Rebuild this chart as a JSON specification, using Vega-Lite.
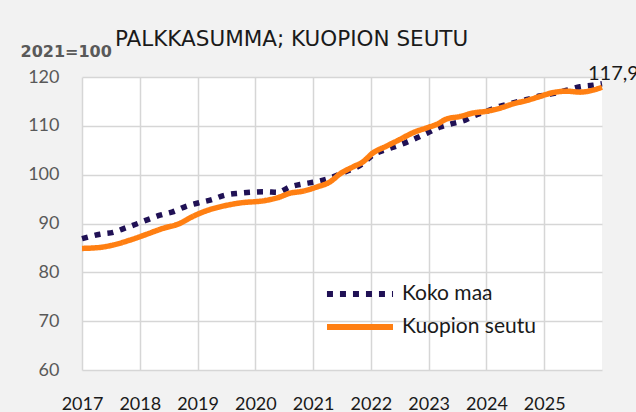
{
  "$schema": "https://vega.github.io/schema/vega-lite/v6.json",
  "width": 520,
  "height": 293,
  "autosize": "none",
  "padding": {"left": 82, "top": 77, "right": 34, "bottom": 42},
  "background": "#f2f2f2",
  "config": {
    "view": {"fill": "white", "stroke": null},
    "font": "Lato"
  },
  "title": {
    "text": "PALKKASUMMA; KUOPION SEUTU",
    "anchor": "start",
    "frame": "group",
    "dx": 33,
    "offset": -7,
    "font": "DejaVu Sans",
    "fontSize": 21.5,
    "fontWeight": "normal",
    "color": "#1a1a1a"
  },
  "data": {
    "values": [
      {"t": 2017.00, "series": "Koko maa", "value": 86.9},
      {"t": 2017.31, "series": "Koko maa", "value": 87.8},
      {"t": 2017.54, "series": "Koko maa", "value": 88.2},
      {"t": 2017.71, "series": "Koko maa", "value": 88.9},
      {"t": 2017.92, "series": "Koko maa", "value": 89.8},
      {"t": 2018.14, "series": "Koko maa", "value": 90.8},
      {"t": 2018.35, "series": "Koko maa", "value": 91.7},
      {"t": 2018.57, "series": "Koko maa", "value": 92.4},
      {"t": 2018.82, "series": "Koko maa", "value": 93.6},
      {"t": 2019.01, "series": "Koko maa", "value": 94.2},
      {"t": 2019.25, "series": "Koko maa", "value": 94.9},
      {"t": 2019.47, "series": "Koko maa", "value": 95.8},
      {"t": 2019.73, "series": "Koko maa", "value": 96.2},
      {"t": 2019.94, "series": "Koko maa", "value": 96.4},
      {"t": 2020.17, "series": "Koko maa", "value": 96.5},
      {"t": 2020.39, "series": "Koko maa", "value": 96.4},
      {"t": 2020.60, "series": "Koko maa", "value": 97.5},
      {"t": 2020.82, "series": "Koko maa", "value": 98.1},
      {"t": 2021.07, "series": "Koko maa", "value": 98.6},
      {"t": 2021.29, "series": "Koko maa", "value": 99.3},
      {"t": 2021.50, "series": "Koko maa", "value": 100.3},
      {"t": 2021.86, "series": "Koko maa", "value": 102.3},
      {"t": 2022.03, "series": "Koko maa", "value": 104.0},
      {"t": 2022.28, "series": "Koko maa", "value": 105.2},
      {"t": 2022.50, "series": "Koko maa", "value": 106.1},
      {"t": 2022.73, "series": "Koko maa", "value": 107.2},
      {"t": 2022.97, "series": "Koko maa", "value": 108.5},
      {"t": 2023.19, "series": "Koko maa", "value": 109.7},
      {"t": 2023.42, "series": "Koko maa", "value": 110.5},
      {"t": 2023.64, "series": "Koko maa", "value": 111.2},
      {"t": 2023.76, "series": "Koko maa", "value": 111.9},
      {"t": 2024.01, "series": "Koko maa", "value": 113.0},
      {"t": 2024.23, "series": "Koko maa", "value": 114.0},
      {"t": 2024.46, "series": "Koko maa", "value": 114.7},
      {"t": 2024.70, "series": "Koko maa", "value": 115.4},
      {"t": 2024.92, "series": "Koko maa", "value": 116.1},
      {"t": 2025.15, "series": "Koko maa", "value": 116.6},
      {"t": 2025.39, "series": "Koko maa", "value": 117.3},
      {"t": 2025.62, "series": "Koko maa", "value": 118.0},
      {"t": 2025.84, "series": "Koko maa", "value": 118.3},
      {"t": 2026.00, "series": "Koko maa", "value": 118.6},
      {"t": 2017.00, "series": "Kuopion seutu", "value": 84.9},
      {"t": 2017.31, "series": "Kuopion seutu", "value": 85.1},
      {"t": 2017.54, "series": "Kuopion seutu", "value": 85.6},
      {"t": 2017.83, "series": "Kuopion seutu", "value": 86.6},
      {"t": 2018.12, "series": "Kuopion seutu", "value": 87.8},
      {"t": 2018.40, "series": "Kuopion seutu", "value": 89.0},
      {"t": 2018.69, "series": "Kuopion seutu", "value": 90.0},
      {"t": 2018.91, "series": "Kuopion seutu", "value": 91.4},
      {"t": 2019.15, "series": "Kuopion seutu", "value": 92.6},
      {"t": 2019.35, "series": "Kuopion seutu", "value": 93.3},
      {"t": 2019.73, "series": "Kuopion seutu", "value": 94.2},
      {"t": 2020.17, "series": "Kuopion seutu", "value": 94.7},
      {"t": 2020.39, "series": "Kuopion seutu", "value": 95.3},
      {"t": 2020.60, "series": "Kuopion seutu", "value": 96.2},
      {"t": 2020.82, "series": "Kuopion seutu", "value": 96.6},
      {"t": 2021.07, "series": "Kuopion seutu", "value": 97.5},
      {"t": 2021.29, "series": "Kuopion seutu", "value": 98.5},
      {"t": 2021.47, "series": "Kuopion seutu", "value": 100.2},
      {"t": 2021.69, "series": "Kuopion seutu", "value": 101.6},
      {"t": 2021.86, "series": "Kuopion seutu", "value": 102.6},
      {"t": 2022.03, "series": "Kuopion seutu", "value": 104.4},
      {"t": 2022.28, "series": "Kuopion seutu", "value": 105.9},
      {"t": 2022.50, "series": "Kuopion seutu", "value": 107.2},
      {"t": 2022.73, "series": "Kuopion seutu", "value": 108.6},
      {"t": 2022.97, "series": "Kuopion seutu", "value": 109.6},
      {"t": 2023.14, "series": "Kuopion seutu", "value": 110.3},
      {"t": 2023.31, "series": "Kuopion seutu", "value": 111.4},
      {"t": 2023.54, "series": "Kuopion seutu", "value": 111.9},
      {"t": 2023.76, "series": "Kuopion seutu", "value": 112.6},
      {"t": 2024.01, "series": "Kuopion seutu", "value": 113.0},
      {"t": 2024.23, "series": "Kuopion seutu", "value": 113.6},
      {"t": 2024.46, "series": "Kuopion seutu", "value": 114.5},
      {"t": 2024.70, "series": "Kuopion seutu", "value": 115.2},
      {"t": 2024.92, "series": "Kuopion seutu", "value": 116.0},
      {"t": 2025.15, "series": "Kuopion seutu", "value": 116.8},
      {"t": 2025.39, "series": "Kuopion seutu", "value": 117.1},
      {"t": 2025.62, "series": "Kuopion seutu", "value": 116.9},
      {"t": 2025.84, "series": "Kuopion seutu", "value": 117.3},
      {"t": 2026.00, "series": "Kuopion seutu", "value": 117.9, "label": "117,9"}
    ]
  },
  "encoding": {
    "x": {
      "field": "t",
      "type": "quantitative",
      "scale": {"domain": [2017, 2026], "nice": false, "zero": false},
      "axis": {
        "title": null,
        "values": [2017, 2018, 2019, 2020, 2021, 2022, 2023, 2024, 2025],
        "format": "d",
        "domain": false,
        "ticks": false,
        "grid": true,
        "gridColor": "#d6d6d6",
        "gridWidth": 1.5,
        "labelFlush": false,
        "labelPadding": 25,
        "labelFont": "Lato",
        "labelFontSize": 18,
        "labelColor": "#1a1a1a"
      }
    },
    "y": {
      "field": "value",
      "type": "quantitative",
      "scale": {"domain": [60, 120], "nice": false, "zero": false},
      "axis": {
        "title": "2021=100",
        "titleAngle": 0,
        "titleAlign": "left",
        "titleBaseline": "middle",
        "titleX": -62,
        "titleY": -26,
        "titleFont": "DejaVu Sans",
        "titleFontSize": 16,
        "titleFontWeight": "bold",
        "titleColor": "#595959",
        "values": [60, 70, 80, 90, 100, 110, 120],
        "domain": false,
        "ticks": false,
        "grid": true,
        "gridColor": "#d6d6d6",
        "gridWidth": 1.5,
        "labelPadding": 23,
        "labelFont": "Lato",
        "labelFontSize": 18,
        "labelColor": "#595959"
      }
    }
  },
  "layer": [
    {
      "mark": {"type": "line", "strokeWidth": 5.5, "interpolate": "monotone", "strokeCap": "butt"},
      "encoding": {
        "color": {
          "field": "series",
          "type": "nominal",
          "scale": {"domain": ["Koko maa", "Kuopion seutu"], "range": ["#201155", "#ff7f12"]},
          "legend": {
            "title": null,
            "orient": "none",
            "legendX": 266,
            "legendY": 205,
            "symbolType": "M-3.67,0H3.67",
            "symbolSize": 324,
            "symbolStrokeWidth": 6,
            "symbolFillColor": "transparent",
            "labelFont": "Lato",
            "labelFontSize": 21,
            "labelColor": "#1a1a1a",
            "labelOffset": 30,
            "rowPadding": 9
          }
        },
        "strokeDash": {
          "field": "series",
          "type": "nominal",
          "scale": {"domain": ["Koko maa", "Kuopion seutu"], "range": [[6, 7], [1, 0]]},
          "legend": {
            "title": null,
            "orient": "none",
            "legendX": 266,
            "legendY": 205,
            "symbolType": "M-3.67,0H3.67",
            "symbolSize": 324,
            "symbolStrokeWidth": 6,
            "symbolFillColor": "transparent",
            "labelFont": "Lato",
            "labelFontSize": 21,
            "labelColor": "#1a1a1a",
            "labelOffset": 30,
            "rowPadding": 9
          }
        }
      }
    },
    {
      "transform": [{"filter": "datum.label != null"}],
      "mark": {"type": "text", "align": "left", "baseline": "alphabetic", "dx": -14, "dy": -7, "font": "Lato", "fontSize": 20, "color": "#1a1a1a"},
      "encoding": {"text": {"field": "label"}}
    }
  ]
}
